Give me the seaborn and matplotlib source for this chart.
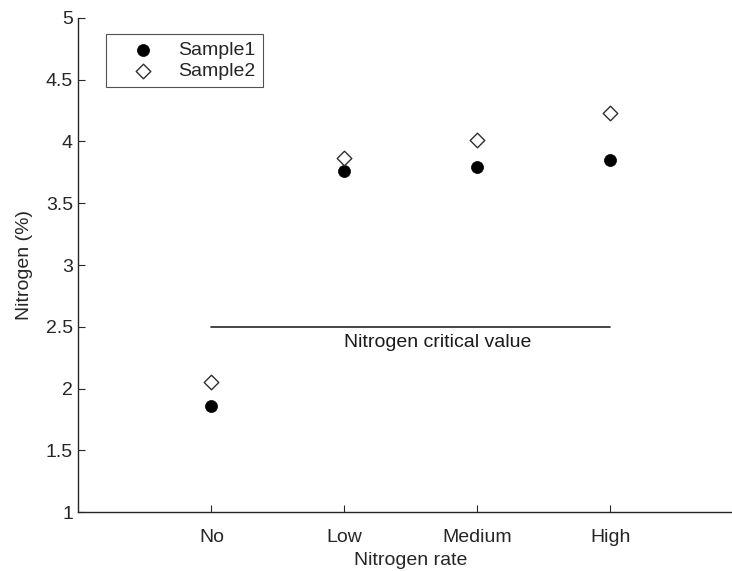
import matplotlib
matplotlib.use("Agg")
import matplotlib.pyplot as plt
import seaborn as sns
import pandas as pd

rates = ["No", "Low", "Medium", "High"]
sample1 = [1.86, 3.76, 3.79, 3.85]
sample2 = [2.05, 3.87, 4.01, 4.23]
critical_value = 2.5
critical_label = "Nitrogen critical value"

sns.set_theme(style="white")
plt.rcParams["font.family"] = ["Liberation Sans", "DejaVu Sans"]

positions = list(range(1, len(rates) + 1))
df = pd.DataFrame({
    "pos": positions * 2,
    "value": sample1 + sample2,
    "sample": ["Sample1"] * len(rates) + ["Sample2"] * len(rates),
})

fig = plt.figure(figsize=(7.32, 5.71), dpi=100)
ax = fig.add_axes([0.1072, 0.1033, 0.9085, 0.8652])

grey = "#262626"
fs = 14
sns.scatterplot(data=df[df["sample"] == "Sample1"], x="pos", y="value", ax=ax,
                marker="o", s=75, color="black", edgecolor="black", linewidth=0.5,
                label="Sample1", zorder=3)
sns.scatterplot(data=df[df["sample"] == "Sample2"], x="pos", y="value", ax=ax,
                marker="D", s=55, facecolor="white", edgecolor="#303030", linewidth=1.0,
                label="Sample2", zorder=3)

ax.plot([positions[0], positions[-1]], [critical_value, critical_value],
        color=grey, linewidth=1.2)
ax.text(positions[1], critical_value - 0.06, critical_label, ha="left", va="top",
        fontsize=fs, color="#1a1a1a")

ax.set_xlim(0, 5)
ax.set_ylim(1, 5)
ax.set_xticks(positions)
ax.set_xticklabels(rates)
ax.set_yticks([1, 1.5, 2, 2.5, 3, 3.5, 4, 4.5, 5])
ax.set_yticklabels(["1", "1.5", "2", "2.5", "3", "3.5", "4", "4.5", "5"])
ax.set_xlabel("Nitrogen rate", fontsize=fs, color=grey, labelpad=4)
ax.set_ylabel("Nitrogen (%)", fontsize=fs, color=grey, labelpad=9)

for side in ("top", "right"):
    ax.spines[side].set_visible(False)
for side in ("left", "bottom"):
    ax.spines[side].set_color(grey)
    ax.spines[side].set_linewidth(1.0)
ax.tick_params(axis="both", direction="in", length=5, width=0.8, colors=grey,
               labelsize=fs, labelcolor=grey, left=True, bottom=True)
ax.tick_params(axis="x", pad=12.5)
ax.tick_params(axis="y", pad=4)

leg = ax.legend(loc="upper left", bbox_to_anchor=(0.042, 0.968), frameon=True,
                fancybox=False, edgecolor=grey, fontsize=fs, borderpad=0.4,
                handletextpad=0.3, labelspacing=0.15, borderaxespad=0,
                handlelength=3.0, markerscale=1.0)
leg.get_frame().set_linewidth(0.8)
for t in leg.get_texts():
    t.set_color(grey)

fig.savefig("out.png", dpi=100)
